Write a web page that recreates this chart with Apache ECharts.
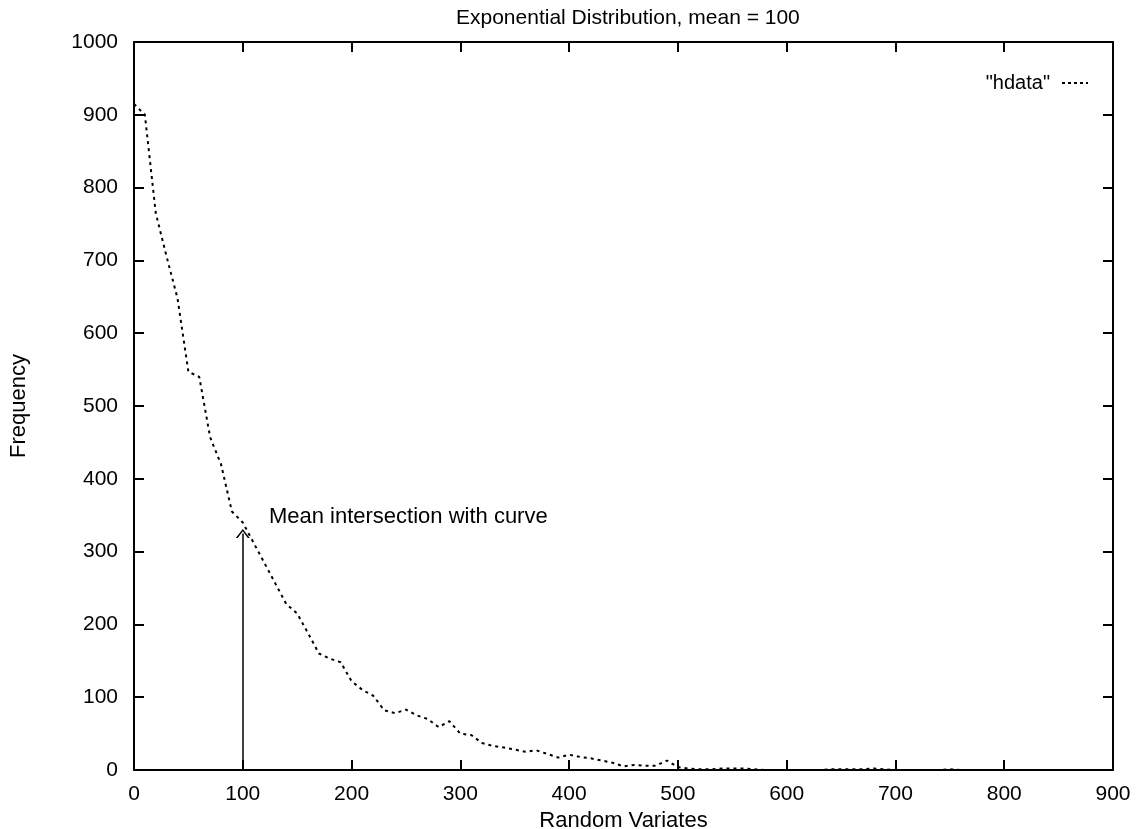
<!DOCTYPE html>
<html>
<head>
<meta charset="utf-8">
<script src="https://cdn.jsdelivr.net/npm/echarts@6/dist/echarts.min.js"></script>
<style>
  html, body { margin: 0; padding: 0; background: #fff; }
  #main { width: 1136px; height: 829px; }
</style>
</head>
<body>
<div id="main"></div>
<script>
// histogram bins (random variate value) and their counts
var bins = [0, 10, 20, 30, 40, 50, 60, 70, 80, 90,
    100, 110, 120, 130, 140, 150, 160, 170, 180, 190,
    200, 210, 220, 230, 240, 250, 260, 270, 280, 290,
    300, 310, 320, 330, 340, 350, 360, 370, 380, 390,
    400, 410, 420, 430, 440, 450, 460, 470, 480, 490,
    500, 510, 520, 530, 540, 550, 560, 570, 580, 590,
    600, 610, 620, 630, 640, 650, 660, 670, 680, 690,
    700, 710, 720, 730, 740, 750, 760];
var hdata = [915, 900, 765, 705, 648, 547, 540, 457, 420, 355,
    340, 312, 284, 256, 228, 215, 188, 160, 153, 148,
    122, 110, 102, 82, 78, 83, 75, 70, 59, 67,
    50, 48, 37, 33, 31, 28, 25, 27, 22, 17,
    21, 18, 16, 13, 10, 5, 7, 6, 6, 13,
    4, 2, 1, 1, 2, 2, 2, 1, 0, 0,
    0, 0, 0, 0, 1, 1, 1, 1, 2, 1,
    0, 0, 0, 0, 0, 1, 0];
var xTicks = [0, 900, 100];
var yTicks = [0, 1000, 100];
var meanX = 100;
var arrowTop = 325;
var noteAt = [124, 347];
var noteText = 'Mean intersection with curve';

(function () {
    var myChart = echarts.init(document.getElementById('main'));
    var font = "'Liberation Sans', Arial, Helvetica, sans-serif";
    var points = bins.map(function (b, i) { return [b, hdata[i]]; });

    var axisCommon = {
        axisLine: { show: true, onZero: false, lineStyle: { color: '#000', width: 2 } },
        axisTick: { show: true, inside: true, length: 10, lineStyle: { color: '#000', width: 2 } },
        splitLine: { show: false }
    };
    var plain = function (v) { return String(v); };

    option = {
        backgroundColor: '#fff',
        animation: false,
        textStyle: { fontFamily: font },
        title: {
            text: 'Exponential Distribution, mean = 100',
            left: 451,
            top: 3,
            textStyle: { fontFamily: font, fontSize: 21, fontWeight: 'normal', color: '#000' }
        },
        legend: {
            right: 43,
            top: 68,
            align: 'right',
            itemWidth: 26,
            itemHeight: 2,
            textStyle: { fontFamily: font, fontSize: 20, color: '#000', padding: [0, 7, 0, 0] },
            data: [{
                name: '"hdata"',
                icon: 'path://M0,0h3v2h-3z M6,0h3v2h-3z M12,0h3v2h-3z M18,0h3v2h-3z M24,0h2v2h-2z'
            }]
        },
        grid: { left: 134, right: 23, top: 42, bottom: 59, containLabel: false, outerBoundsMode: 'none' },
        xAxis: [
            Object.assign({
                type: 'value', position: 'bottom',
                min: xTicks[0], max: xTicks[1], interval: xTicks[2],
                name: 'Random Variates', nameLocation: 'middle', nameGap: 35,
                nameTextStyle: { fontFamily: font, fontSize: 22, color: '#000' },
                axisLabel: { color: '#000', fontSize: 21, fontFamily: font, margin: 14, formatter: plain }
            }, axisCommon),
            Object.assign({
                type: 'value', position: 'top',
                min: xTicks[0], max: xTicks[1], interval: xTicks[2],
                axisLabel: { show: false }
            }, axisCommon)
        ],
        yAxis: [
            Object.assign({
                type: 'value', position: 'left',
                min: yTicks[0], max: yTicks[1], interval: yTicks[2],
                name: 'Frequency', nameLocation: 'middle', nameGap: 104, nameRotate: 90,
                nameTextStyle: { fontFamily: font, fontSize: 22, color: '#000' },
                axisLabel: {
                    color: '#000', fontSize: 21, fontFamily: font, margin: 16,
                    padding: [6, 0, 0, 0], formatter: plain
                }
            }, axisCommon),
            Object.assign({
                type: 'value', position: 'right',
                min: yTicks[0], max: yTicks[1], interval: yTicks[2],
                axisLabel: { show: false }
            }, axisCommon)
        ],
        series: [
            {
                name: '"hdata"',
                type: 'line',
                symbol: 'none',
                data: points,
                lineStyle: { color: '#000', width: 2, type: [3, 4] },
                itemStyle: { color: '#000' },
                markLine: {
                    silent: true,
                    symbol: ['none', 'path://M0,10 L5,0 L10,10 L8.6,10 L5,2.6 L1.4,10 Z'],
                    symbolSize: [14, 9],
                    label: { show: false },
                    lineStyle: { color: '#000', width: 1.5, type: 'solid' },
                    data: [[{ coord: [meanX, 0] }, { coord: [meanX, arrowTop] }]]
                },
                markPoint: {
                    silent: true,
                    symbol: 'circle',
                    symbolSize: 0,
                    label: {
                        show: true, position: 'right', distance: 0,
                        formatter: noteText,
                        fontFamily: font, fontSize: 22, color: '#000'
                    },
                    data: [{ coord: noteAt }]
                }
            }
        ]
    };

    myChart.setOption(option);

    window.addEventListener('resize', function () {
        myChart.resize();
    });
})();
</script>
</body>
</html>
